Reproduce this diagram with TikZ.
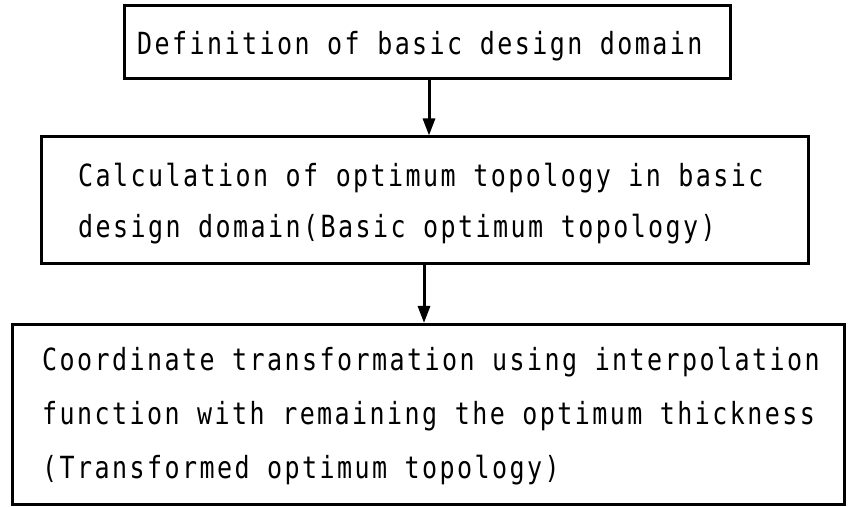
\documentclass[tikz,border=0pt]{standalone}
\usepackage{fontspec}
\newfontfamily\monofam[FakeStretch=0.82,LetterSpace=8]{DejaVu Sans Mono}
\usetikzlibrary{arrows.meta}
\begin{document}
\begin{tikzpicture}[x=1bp,y=-1bp,
  flowbox/.style={draw=black, line width=3bp, rectangle, inner sep=0pt},
  linetext/.style={anchor=base west, inner sep=0pt, font=\monofam\fontsize{30.5bp}{30.5bp}\selectfont},
  flowarrow/.style={line width=3bp, -{Triangle[length=17bp,width=12bp]}}]
\useasboundingbox (0,0) rectangle (854,507);
% boxes
\node[flowbox, minimum width=605bp, minimum height=73bp] (b1) at (427.5,42.5) {};
\node[flowbox, minimum width=766bp, minimum height=126bp] (b2) at (425,200) {};
\node[flowbox, minimum width=831bp, minimum height=180bp] (b3) at (428.5,414.5) {};
% texts
\node[linetext] (t1) at (137,55) {Definition of basic design domain};
\node[linetext] (t2a) at (78,187) {Calculation of optimum topology in basic};
\node[linetext] (t2b) at (78,238) {design domain(Basic optimum topology)};
\node[linetext] (t3a) at (42,370) {Coordinate transformation using interpolation};
\node[linetext] (t3b) at (42,424) {function with remaining the optimum thickness};
\node[linetext] (t3c) at (42,478) {(Transformed optimum topology)};
% arrows
\coordinate (x1) at (429,0);
\coordinate (x2) at (424,0);
\draw[flowarrow] (x1 |- b1.south) -- (x1 |- b2.north);
\draw[flowarrow] (x2 |- b2.south) -- (x2 |- b3.north);
\end{tikzpicture}
\end{document}
